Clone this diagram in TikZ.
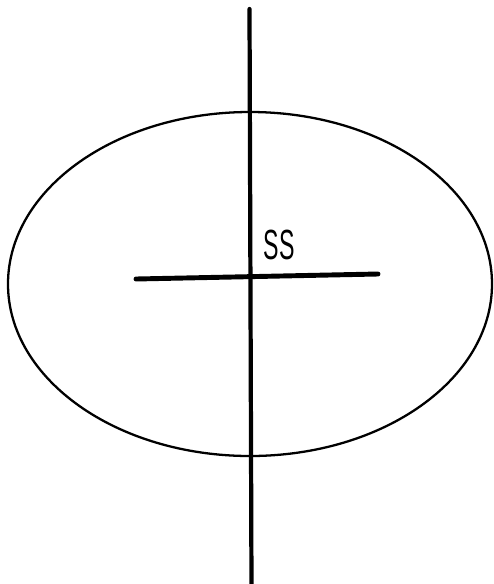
\documentclass[tikz,border=0pt]{standalone}
\usepackage{fontspec}
\setsansfont{Liberation Sans}
\usetikzlibrary{positioning}

\tikzset{
axisline/.style={line width=2.4pt, line cap=round},
shaftline/.style={line width=2.8pt, line cap=round}
}

\begin{document}
\begin{tikzpicture}

%%%%%%%%%%%%%%%%%%%%%%%%%%%%%%%%%%%%%%%%%%%%%%%%%%%%%%%%%%%%
% PAGE
%%%%%%%%%%%%%%%%%%%%%%%%%%%%%%%%%%%%%%%%%%%%%%%%%%%%%%%%%%%%

\useasboundingbox (0,0) rectangle (9.86,-11.68);

%%%%%%%%%%%%%%%%%%%%%%%%%%%%%%%%%%%%%%%%%%%%%%%%%%%%%%%%%%%%
% Ellipse
%%%%%%%%%%%%%%%%%%%%%%%%%%%%%%%%%%%%%%%%%%%%%%%%%%%%%%%%%%%%

\coordinate (centre) at (5.0,-5.68);

\draw[line width=1.3pt] (centre) ellipse [x radius=4.84cm, y radius=3.44cm];

%%%%%%%%%%%%%%%%%%%%%%%%%%%%%%%%%%%%%%%%%%%%%%%%%%%%%%%%%%%%
% Vertical axis
%%%%%%%%%%%%%%%%%%%%%%%%%%%%%%%%%%%%%%%%%%%%%%%%%%%%%%%%%%%%

\coordinate (top) at (4.99,-0.18);
\coordinate (bottom) at (5.03,-11.75);

\draw[axisline] (top) -- (bottom);

%%%%%%%%%%%%%%%%%%%%%%%%%%%%%%%%%%%%%%%%%%%%%%%%%%%%%%%%%%%%
% Horizontal bar
%%%%%%%%%%%%%%%%%%%%%%%%%%%%%%%%%%%%%%%%%%%%%%%%%%%%%%%%%%%%

\coordinate (left) at (2.72,-5.58);
\coordinate (right) at (7.56,-5.48);

\draw[shaftline] (left) -- (right);

%%%%%%%%%%%%%%%%%%%%%%%%%%%%%%%%%%%%%%%%%%%%%%%%%%%%%%%%%%%%
% Label
%%%%%%%%%%%%%%%%%%%%%%%%%%%%%%%%%%%%%%%%%%%%%%%%%%%%%%%%%%%%

\node[
font=\sffamily\fontsize{24}{28}\selectfont,
inner sep=0pt
](ss)
at (5.58,-4.9)
{\scalebox{0.55}[1]{SS}};

\end{tikzpicture}
\end{document}
